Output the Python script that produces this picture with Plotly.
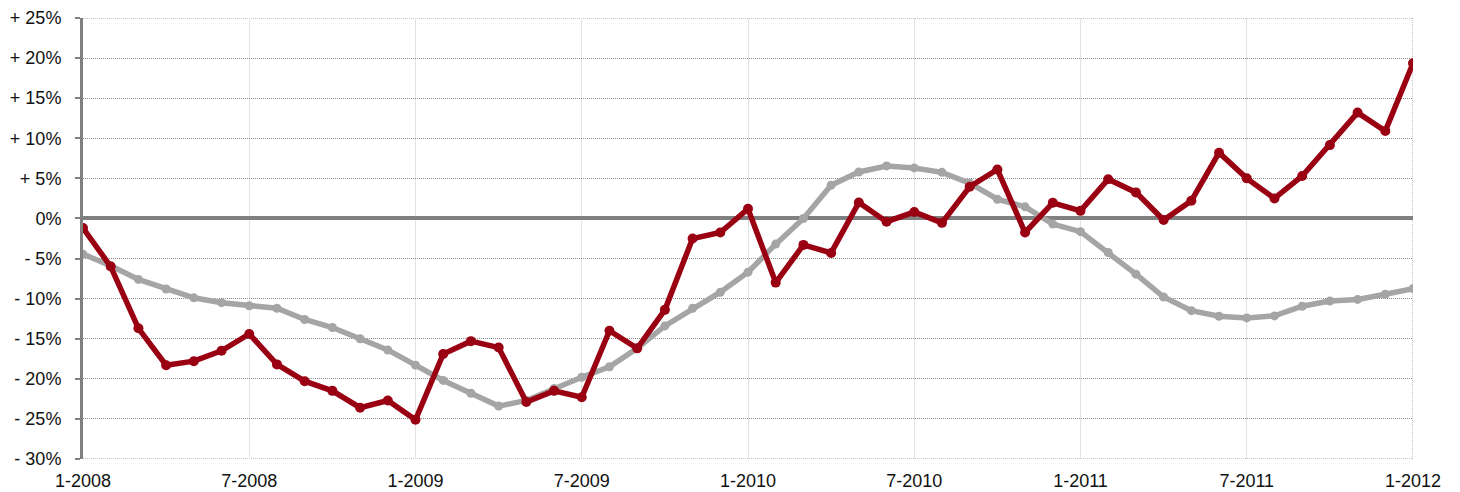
import plotly.graph_objects as go

months = [f"{m}-{y}" for y in range(2008, 2012) for m in range(1, 13)] + ["1-2012"]

red_values = [-1.2, -6.0, -13.7, -18.3, -17.8, -16.5, -14.4, -18.2, -20.3, -21.5, -23.6, -22.7,
              -25.1, -16.9, -15.3, -16.1, -22.9, -21.5, -22.3, -14.0, -16.2, -11.4, -2.5, -1.75,
              1.2, -8.0, -3.3, -4.3, 2.0, -0.4, 0.8, -0.55, 3.95, 6.1, -1.75, 1.95,
              0.95, 4.9, 3.25, -0.2, 2.2, 8.2, 5.0, 2.5, 5.3, 9.15, 13.2, 10.9,
              19.35]

gray_values = [-4.45, -5.9, -7.6, -8.8, -9.9, -10.5, -10.9, -11.2, -12.6, -13.6, -15.0, -16.4,
               -18.3, -20.2, -21.8, -23.4, -22.7, -21.2, -19.8, -18.5, -16.2, -13.4, -11.2, -9.2,
               -6.7, -3.2, 0.0, 4.15, 5.8, 6.55, 6.3, 5.75, 4.4, 2.4, 1.45, -0.7,
               -1.65, -4.25, -6.95, -9.8, -11.5, -12.2, -12.4, -12.15, -10.95, -10.3, -10.1, -9.45,
               -8.75]

y_ticks = [25, 20, 15, 10, 5, 0, -5, -10, -15, -20, -25, -30]
y_tick_labels = ["+ 25%", "+ 20%", "+ 15%", "+ 10%", "+ 5%", "0%", "- 5%", "- 10%", "- 15%",
                 "- 20%", "- 25%", "- 30%"]

x = list(range(len(months)))
x_tickvals = x[::6]
x_ticktext = months[::6]

RED = "#990012"
GRAY = "#a5a5a5"
AXIS = "#808080"
GRID = "#8a8a8a"

fig = go.Figure()
fig.add_trace(go.Scatter(x=x, y=gray_values, mode="lines+markers",
                         line=dict(color=GRAY, width=5.5),
                         marker=dict(color=GRAY, size=9), showlegend=False))
fig.add_trace(go.Scatter(x=x, y=red_values, mode="lines+markers",
                         line=dict(color=RED, width=5.5),
                         marker=dict(color=RED, size=10), showlegend=False))

# borders (dotted): right, bottom, top
fig.add_shape(type="line", xref="x", yref="y", x0=x[-1], x1=x[-1], y0=y_ticks[-1], y1=y_ticks[0],
              line=dict(color=GRID, width=1, dash="1px,1px"), layer="below")
fig.add_shape(type="line", xref="x", yref="y", x0=x[0], x1=x[-1], y0=y_ticks[-1], y1=y_ticks[-1],
              line=dict(color=GRID, width=1, dash="1px,1px"), layer="below")
fig.add_shape(type="line", xref="x", yref="y", x0=x[0], x1=x[-1], y0=y_ticks[0], y1=y_ticks[0],
              line=dict(color=GRID, width=1, dash="1px,1px"), layer="below")

fig.update_layout(
    width=1452, height=484,
    margin=dict(l=75, r=47, t=10, b=33, autoexpand=False),
    paper_bgcolor="white", plot_bgcolor="white",
    font=dict(family="Liberation Sans, Arial, Helvetica, sans-serif", size=18, color="#111111"),
    xaxis=dict(range=[x[0], x[-1]], tickvals=x_tickvals, ticktext=x_ticktext,
               showgrid=True, gridcolor="#e3e3e3", gridwidth=1, automargin=False,
               zeroline=False, showline=False, ticks="", ticklabelstandoff=9,
               tickfont=dict(size=18)),
    yaxis=dict(range=[y_ticks[-1], y_ticks[0]], tickvals=y_ticks, ticktext=y_tick_labels,
               showgrid=True, gridcolor=GRID, gridwidth=1, griddash="1px,1px", automargin=False,
               zeroline=True, zerolinecolor=AXIS, zerolinewidth=4,
               showline=True, linecolor=AXIS, linewidth=3,
               ticks="outside", ticklen=5, tickwidth=2, tickcolor=AXIS,
               ticklabelstandoff=10, tickfont=dict(size=18)),
)

fig.write_html("out.html")
